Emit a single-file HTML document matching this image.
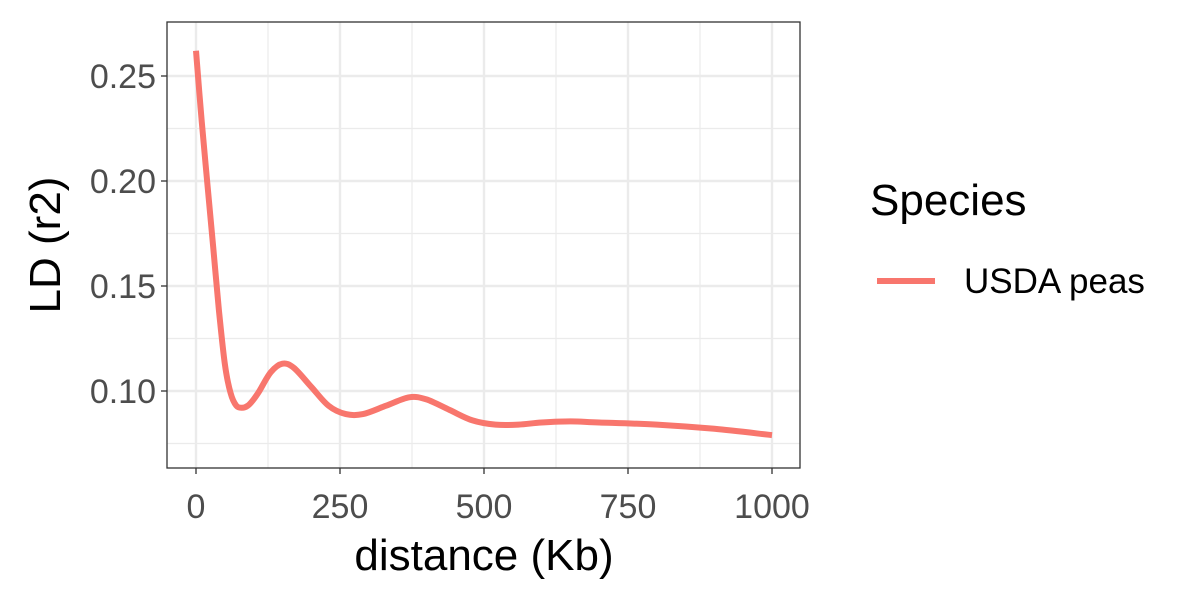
<!DOCTYPE html>
<html><head><meta charset="utf-8"><style>
html,body{margin:0;padding:0;background:#fff;}
svg{display:block;font-family:"Liberation Sans",sans-serif;}
</style></head><body>
<svg id="chart" width="1200" height="600"></svg>
<script>
const distances=[0,10,20,30,40,50,60,70,80,90,100,110,130,150,170,200,230,260,290,330,370,400,440,480,520,560,600,650,700,800,900,1000];
const ldValues=[0.262,0.228,0.198,0.168,0.138,0.113,0.099,0.093,0.092,0.093,0.096,0.100,0.109,0.113,0.111,0.102,0.093,0.089,0.089,0.093,0.097,0.096,0.091,0.086,0.084,0.084,0.085,0.0855,0.085,0.084,0.082,0.079];
const xTicks=[0,250,500,750,1000];
const xMinor=[125,375,625,875];
const yTicks=[0.10,0.15,0.20,0.25];
const yMinor=[0.075,0.125,0.175,0.225];
const yTickLabels=["0.10","0.15","0.20","0.25"];

const NS="http://www.w3.org/2000/svg";
const svg=document.getElementById('chart');
const L=167,R=800,T=22,B=468;
const xs=v=>196+v*0.576;
const ys=v=>391-(v-0.10)*2100;
function mk(tag,attrs,parent){const e=document.createElementNS(NS,tag);for(const k in attrs)e.setAttribute(k,attrs[k]);(parent||svg).appendChild(e);return e;}

const grid=mk('g',{});


xMinor.forEach(v=>mk('line',{x1:xs(v),x2:xs(v),y1:T,y2:B,stroke:'#ebebeb','stroke-width':1.2},grid));
yMinor.forEach(v=>mk('line',{x1:L,x2:R,y1:ys(v),y2:ys(v),stroke:'#ebebeb','stroke-width':1.2},grid));
xTicks.forEach(v=>mk('line',{x1:xs(v),x2:xs(v),y1:T,y2:B,stroke:'#ebebeb','stroke-width':2.4},grid));
yTicks.forEach(v=>mk('line',{x1:L,x2:R,y1:ys(v),y2:ys(v),stroke:'#ebebeb','stroke-width':2.4},grid));

const pts=distances.map((v,i)=>[xs(v),ys(ldValues[i])]);
let d='M'+pts[0][0].toFixed(1)+','+pts[0][1].toFixed(1);
for(let i=0;i<pts.length-1;i++){
  const p0=pts[Math.max(0,i-1)],p1=pts[i],p2=pts[i+1],p3=pts[Math.min(pts.length-1,i+2)];
  const c1=[p1[0]+(p2[0]-p0[0])/6,p1[1]+(p2[1]-p0[1])/6];
  const c2=[p2[0]-(p3[0]-p1[0])/6,p2[1]-(p3[1]-p1[1])/6];
  d+='C'+c1[0].toFixed(1)+','+c1[1].toFixed(1)+' '+c2[0].toFixed(1)+','+c2[1].toFixed(1)+' '+p2[0].toFixed(1)+','+p2[1].toFixed(1);
}
const line=mk('path',{d:d,fill:'none',stroke:'#f8766d','stroke-width':6,'stroke-linejoin':'round','stroke-linecap':'butt'});



const frame=mk('rect',{x:L,y:T,width:R-L,height:B-T,fill:'none',stroke:'#333','stroke-width':1.3});



const xa=mk('g',{});


xTicks.forEach(v=>{
  mk('line',{x1:xs(v),x2:xs(v),y1:B,y2:B+6,stroke:'#333','stroke-width':1.3},xa);
  const t=mk('text',{x:xs(v),y:518,'text-anchor':'middle','font-size':34,fill:'#4d4d4d'},xa);
  t.textContent=v;
  
  
});
const ya=mk('g',{});


yTicks.forEach((v,i)=>{
  mk('line',{x1:L-6,x2:L,y1:ys(v),y2:ys(v),stroke:'#333','stroke-width':1.3},ya);
  const t=mk('text',{x:L-11,y:ys(v)+12,'text-anchor':'end','font-size':34,fill:'#4d4d4d'},ya);
  t.textContent=yTickLabels[i];
  
  
});
</script>
<script>
(function(){
const NS="http://www.w3.org/2000/svg";const svg=document.getElementById('chart');
function mk(tag,attrs){const e=document.createElementNS(NS,tag);for(const k in attrs)e.setAttribute(k,attrs[k]);svg.appendChild(e);return e;}
const xt=mk('text',{x:484,y:570,'text-anchor':'middle','font-size':44,fill:'#000'});
xt.textContent='distance (Kb)';


const yt=mk('text',{x:0,y:0,'text-anchor':'middle','font-size':44,fill:'#000',transform:'translate(60,245) rotate(-90)'});
yt.textContent='LD (r2)';


const lt=mk('text',{x:870,y:215,'font-size':44,fill:'#000'});
lt.textContent='Species';


const ll=mk('line',{x1:877,x2:935,y1:281,y2:281,stroke:'#f8766d','stroke-width':6});


const lx=mk('text',{x:964,y:293,'font-size':35,fill:'#000'});
lx.textContent='USDA peas';


})();
</script>
</body></html>
